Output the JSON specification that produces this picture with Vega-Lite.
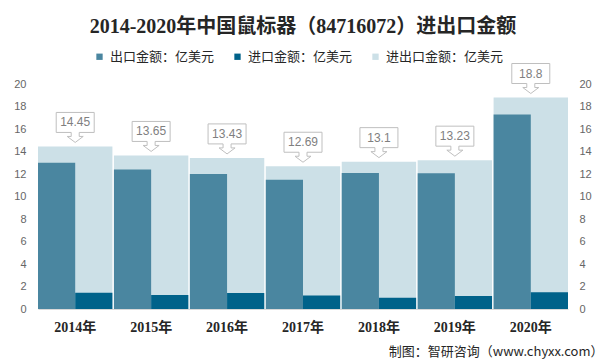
{
  "$schema": "https://vega.github.io/schema/vega-lite/v6.json",
  "width": 530,
  "height": 225,
  "autosize": {"type": "none"},
  "padding": {"left": 38, "top": 84, "right": 38, "bottom": 55},
  "background": "white",
  "config": {"view": {"stroke": null}, "font": "Noto Sans CJK SC"},
  "title": {
    "text": "2014-2020年中国鼠标器（84716072）进出口金额",
    "fontSize": 20,
    "font": "Liberation Serif, Noto Sans CJK SC",
    "fontWeight": "bold",
    "color": "#262626",
    "anchor": "middle",
    "offset": 13
  },
  "datasets": {
    "totals": [
      {"year": "2014年", "type": "进出口金额：亿美元", "value": 14.45},
      {"year": "2015年", "type": "进出口金额：亿美元", "value": 13.65},
      {"year": "2016年", "type": "进出口金额：亿美元", "value": 13.43},
      {"year": "2017年", "type": "进出口金额：亿美元", "value": 12.69},
      {"year": "2018年", "type": "进出口金额：亿美元", "value": 13.1},
      {"year": "2019年", "type": "进出口金额：亿美元", "value": 13.23},
      {"year": "2020年", "type": "进出口金额：亿美元", "value": 18.8}
    ],
    "parts": [
      {"year": "2014年", "type": "出口金额：亿美元", "value": 13.0},
      {"year": "2014年", "type": "进口金额：亿美元", "value": 1.45},
      {"year": "2015年", "type": "出口金额：亿美元", "value": 12.41},
      {"year": "2015年", "type": "进口金额：亿美元", "value": 1.24},
      {"year": "2016年", "type": "出口金额：亿美元", "value": 12.01},
      {"year": "2016年", "type": "进口金额：亿美元", "value": 1.42},
      {"year": "2017年", "type": "出口金额：亿美元", "value": 11.5},
      {"year": "2017年", "type": "进口金额：亿美元", "value": 1.19},
      {"year": "2018年", "type": "出口金额：亿美元", "value": 12.1},
      {"year": "2018年", "type": "进口金额：亿美元", "value": 1.0},
      {"year": "2019年", "type": "出口金额：亿美元", "value": 12.07},
      {"year": "2019年", "type": "进口金额：亿美元", "value": 1.16},
      {"year": "2020年", "type": "出口金额：亿美元", "value": 17.3},
      {"year": "2020年", "type": "进口金额：亿美元", "value": 1.5}
    ]
  },
  "layer": [
    {
      "data": {"name": "totals"},
      "mark": {"type": "bar"},
      "encoding": {
        "x": {
          "field": "year",
          "type": "nominal",
          "scale": {"paddingInner": 0.02, "paddingOuter": 0},
          "axis": {
            "labelAngle": 0,
            "labelFont": "Liberation Serif, Noto Sans CJK SC",
            "labelFontWeight": "bold",
            "labelFontSize": 14,
            "labelColor": "#262626",
            "labelPadding": 11,
            "ticks": false,
            "domainColor": "#d9d9d9",
            "title": "制图：智研咨询（www.chyxx.com）",
            "titleFont": "Noto Sans CJK SC",
            "titleFontSize": 13,
            "titleFontWeight": "normal",
            "titleColor": "#262626",
            "titleAnchor": "end",
            "titleAlign": "right",
            "titleBaseline": "middle",
            "titleX": 565,
            "titleY": 42
          }
        },
        "y": {
          "field": "value",
          "type": "quantitative",
          "scale": {"domain": [0, 20], "nice": false},
          "axis": {
            "orient": "left",
            "values": [0, 2, 4, 6, 8, 10, 12, 14, 16, 18, 20],
            "domain": false,
            "ticks": false,
            "grid": false,
            "labelPadding": 12,
            "labelFont": "Liberation Sans",
            "labelFontSize": 11,
            "labelColor": "#666666",
            "title": null
          }
        },
        "color": {
          "field": "type",
          "type": "nominal",
          "scale": {
            "domain": ["出口金额：亿美元", "进口金额：亿美元", "进出口金额：亿美元"],
            "range": ["#4a86a0", "#00628a", "#cce0e7"]
          },
          "legend": {
            "title": null,
            "orient": "none",
            "legendX": 55,
            "legendY": -34,
            "direction": "horizontal",
            "symbolType": "square",
            "symbolSize": 40,
            "symbolStrokeWidth": 0,
            "symbolOpacity": 1,
            "labelFontSize": 13,
            "labelFont": "Noto Sans CJK SC",
            "labelColor": "#262626",
            "labelOffset": 4,
            "columnPadding": 16,
            "padding": 0,
            "labelLimit": 300
          }
        }
      }
    },
    {
      "data": {"name": "parts"},
      "mark": {"type": "bar"},
      "encoding": {
        "x": {"field": "year", "type": "nominal"},
        "xOffset": {
          "field": "type",
          "type": "nominal",
          "sort": ["出口金额：亿美元", "进口金额：亿美元"],
          "scale": {"paddingInner": 0, "paddingOuter": 0}
        },
        "y": {
          "field": "value",
          "type": "quantitative",
          "scale": {"domain": [0, 20], "nice": false},
          "axis": {
            "orient": "right",
            "values": [0, 2, 4, 6, 8, 10, 12, 14, 16, 18, 20],
            "domain": false,
            "ticks": false,
            "grid": false,
            "labelPadding": 11,
            "labelFont": "Liberation Sans",
            "labelFontSize": 11,
            "labelColor": "#666666",
            "title": null
          }
        },
        "color": {"field": "type", "type": "nominal"}
      }
    },
    {
      "data": {"name": "totals"},
      "mark": {
        "type": "point",
        "shape": "M-0.95,-0.75L0.95,-0.75L0.95,0.25L0.2,0.25L0.2,0.45L0.4,0.45L0,0.75L-0.4,0.45L-0.2,0.45L-0.2,0.25L-0.95,0.25Z",
        "size": 1600,
        "filled": true,
        "fill": "white",
        "stroke": "#bfbfbf",
        "strokeWidth": 1,
        "opacity": 1,
        "yOffset": -19
      },
      "encoding": {
        "x": {"field": "year", "type": "nominal"},
        "y": {"field": "value", "type": "quantitative", "scale": {"domain": [0, 20], "nice": false}, "axis": null}
      }
    },
    {
      "data": {"name": "totals"},
      "mark": {
        "type": "text",
        "yOffset": -24,
        "fontSize": 12,
        "font": "Liberation Sans",
        "color": "#7f7f7f"
      },
      "encoding": {
        "x": {"field": "year", "type": "nominal"},
        "y": {"field": "value", "type": "quantitative", "scale": {"domain": [0, 20], "nice": false}, "axis": null},
        "text": {"field": "value", "type": "nominal"}
      }
    }
  ],
  "resolve": {"scale": {"y": "independent"}}
}
